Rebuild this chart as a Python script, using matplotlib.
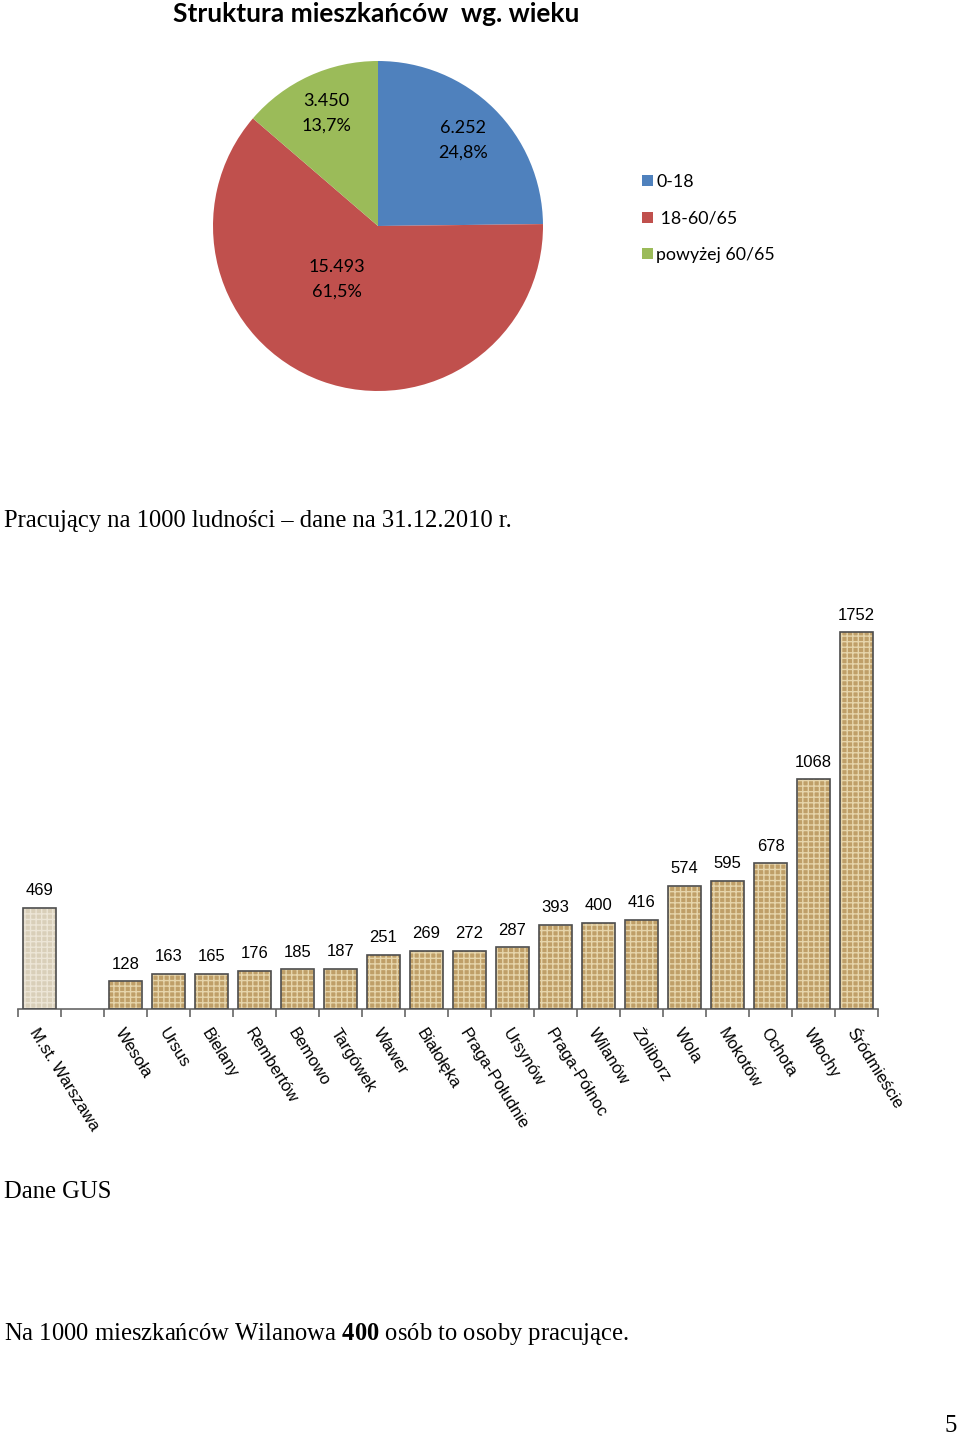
import matplotlib
matplotlib.use("Agg")
import matplotlib.pyplot as plt
import numpy as np

# dane - struktura wieku
grupy = ["0-18", " 18-60/65", "powyżej 60/65"]
liczby = [6252, 15493, 3450]
kolory_pie = ["#4f81bd", "#c0504d", "#9bbb59"]

# dane - pracujący na 1000 ludności
dzielnice = ["M.st. Warszawa", "", "Wesoła", "Ursus", "Bielany", "Rembertów", "Bemowo",
             "Targówek", "Wawer", "Białołęka", "Praga-Południe", "Ursynów", "Praga-Północ",
             "Wilanów", "Żoliborz", "Wola", "Mokotów", "Ochota", "Włochy", "Śródmieście"]
pracujacy = [469, None, 128, 163, 165, 176, 185, 187, 251, 269, 272, 287, 393, 400, 416,
             574, 595, 678, 1068, 1752]

W, H = 960, 1438
plt.rcParams['mathtext.fontset'] = 'custom'
plt.rcParams['mathtext.rm'] = 'Liberation Serif'
plt.rcParams['mathtext.bf'] = 'Liberation Serif:bold'
plt.rcParams['hatch.linewidth'] = 1.0

fig = plt.figure(figsize=(W / 100, H / 100), dpi=100)


def box(x0, y0, x1, y1):
    # piksele (od góry) -> współrzędne figury
    return [x0 / W, 1 - y1 / H, (x1 - x0) / W, (y1 - y0) / H]


def fy(y):
    return 1 - y / H


# ---------- wykres kołowy ----------
fig.text(376 / W, fy(14), "Struktura mieszkańców  wg. wieku", ha="center", va="center",
         fontsize=19, fontweight="bold", family="Lato")

ax1 = fig.add_axes(box(213, 61, 543, 391))
wedges, _ = ax1.pie(liczby, colors=kolory_pie, startangle=90, counterclock=False,
                    wedgeprops=dict(linewidth=0))
ax1.set_xlim(-1, 1)
ax1.set_ylim(-1, 1)
ax1.set_aspect("equal")
ax1.axis("off")

suma = sum(liczby)
# (odległość od środka, położenie w obrębie wycinka)
pozycje = [(0.73, 0.5), (0.41, 0.42), (0.75, 0.5)]
for w, n, (r, f) in zip(wedges, liczby, pozycje):
    kat = np.deg2rad(w.theta1 + f * (w.theta2 - w.theta1))
    proc = f"{100 * n / suma:.1f}".replace(".", ",")
    tekst = f"{n / 1000:.3f}\n{proc}%"
    ax1.text(r * np.cos(kat), r * np.sin(kat), tekst, ha="center", va="center",
             fontsize=13, family="Lato", linespacing=1.7)

fig.legend(wedges, grupy, loc="upper left", bbox_to_anchor=(626 / W, fy(158)),
           frameon=False, prop=dict(family="Lato", size=12.8), handlelength=0.6,
           handleheight=0.6, handletextpad=0.2, labelspacing=1.15)

# ---------- tekst ----------
fig.text(4 / W, fy(521), "Pracujący na 1000 ludności – dane na 31.12.2010 r.",
         ha="left", va="center", fontsize=17.7, family="Liberation Serif")

# ---------- wykres słupkowy ----------
ax2 = fig.add_axes(box(18, 600, 878, 1009))
x = np.arange(len(dzielnice))
wys = [v if v is not None else 0 for v in pracujacy]
face = ["#d9cfb9"] + ["#bf9f68"] * (len(wys) - 1)
hatchc = ["#ece5d6"] + ["#e6d5ab"] * (len(wys) - 1)
for xi, v, fc, hc in zip(x, wys, face, hatchc):
    if v == 0:
        continue
    ax2.bar(xi, v, width=0.76, color=fc, edgecolor=hc, hatch="+++", linewidth=0, zorder=2)
    ax2.bar(xi, v, width=0.76, fill=False, edgecolor="#4d4d4d", linewidth=1.2, zorder=3)
    ax2.annotate(str(v), (xi, v), xytext=(0, 7), textcoords="offset points",
                 ha="center", va="bottom", fontsize=12, family="Liberation Sans")

ax2.set_xlim(-0.5, len(dzielnice) - 0.5)
ax2.set_ylim(0, 409 / 0.215)
for s in ["left", "right", "top"]:
    ax2.spines[s].set_visible(False)
ax2.spines["bottom"].set_color("#666666")
ax2.spines["bottom"].set_linewidth(1.2)
ax2.set_yticks([])
ax2.set_xticks(x)
ax2.set_xticks(np.arange(-0.5, len(dzielnice)), minor=True)
ax2.tick_params(axis="x", which="major", length=0, pad=12)
ax2.tick_params(axis="x", which="minor", length=6, width=1.2, color="#666666")
ax2.set_xticklabels(dzielnice, rotation=-58, ha="left", va="top", rotation_mode="anchor",
                    fontsize=12, family="Liberation Sans")

# ---------- stopka ----------
fig.text(4 / W, fy(1192), "Dane GUS", ha="left", va="center", fontsize=17.7,
         family="Liberation Serif")
fig.text(4 / W, fy(1334), r"Na 1000 mieszkańców Wilanowa $\mathbf{400}$ osób to osoby pracujące.",
         ha="left", va="center", fontsize=17.7, family="Liberation Serif")
fig.text(957 / W, fy(1426), "5", ha="right", va="center", fontsize=17.7,
         family="Liberation Serif")

fig.savefig("out.png", dpi=100)
